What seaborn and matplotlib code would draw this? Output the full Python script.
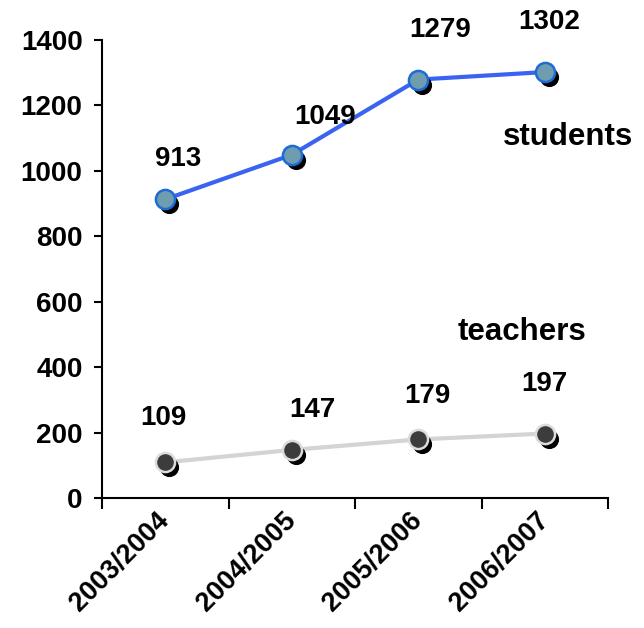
import matplotlib
matplotlib.use("Agg")
import matplotlib.pyplot as plt
import matplotlib.transforms as mtransforms
import seaborn as sns
import pandas as pd

years = ["2003/2004", "2004/2005", "2005/2006", "2006/2007"]
students = [913, 1049, 1279, 1302]
teachers = [109, 147, 179, 197]
yticks = [0, 200, 400, 600, 800, 1000, 1200, 1400]

sns.set_style("white")
plt.rcParams['font.family'] = ['Liberation Sans', 'DejaVu Sans']
plt.rcParams['font.weight'] = 'bold'
plt.rcParams['text.color'] = 'black'
plt.rcParams['xtick.color'] = 'black'
plt.rcParams['ytick.color'] = 'black'

fig = plt.figure(figsize=(6.44, 6.28), dpi=100)
ax = fig.add_axes([102/644, 1 - 498/628, (608-102)/644, (498-40)/628])

df_s = pd.DataFrame({"year": years, "value": students})
df_t = pd.DataFrame({"year": years, "value": teachers})

shadow = mtransforms.offset_copy(ax.transData, fig=fig, x=4, y=-5, units='dots')

for df, lc, fc, ec in [(df_s, "#3B63F2", "#6E9DB0", "#1E6BD6"),
                       (df_t, "#D4D4D4", "#3C3C3C", "#DCDCDC")]:
    sns.lineplot(data=df, x="year", y="value", ax=ax, color=lc, linewidth=3, sort=False, zorder=2)
    sns.scatterplot(data=df, x="year", y="value", ax=ax, color="black", s=190,
                    edgecolor="black", linewidth=0, zorder=3, transform=shadow)
    sns.scatterplot(data=df, x="year", y="value", ax=ax, color=fc, s=190,
                    edgecolor=ec, linewidth=1.8, zorder=4)

FS = 20
s_off = [(13, 40), (33, 38), (22, 50), (4, 50)]
t_off = [(-2, 44), (21, 40), (9, 43), (0, 50)]
for i, v in enumerate(students):
    ax.annotate(str(v), (i, v), xytext=(s_off[i][0], s_off[i][1]), textcoords='offset pixels',
                ha='center', va='center', fontsize=FS, fontweight='bold', color='black', zorder=5)
for i, v in enumerate(teachers):
    ax.annotate(str(v), (i, v), xytext=(t_off[i][0], t_off[i][1]), textcoords='offset pixels',
                ha='center', va='center', fontsize=FS, fontweight='bold', color='black', zorder=5)

ax.text(2.67, 1105, "students", fontsize=22.5, fontweight='bold', ha='left', va='center', color='black')
ax.text(2.31, 507, "teachers", fontsize=22.5, fontweight='bold', ha='left', va='center', color='black')

ax.set_xlim(-0.5, 3.5)
ax.set_ylim(0, 1400)
ax.set_yticks(yticks)
ax.set_yticklabels([str(t) for t in yticks], fontsize=FS, fontweight='bold', color='black')
ax.set_xticks(range(len(years)))
ax.set_xticks([-0.5, 0.5, 1.5, 2.5, 3.5], minor=True)
ax.tick_params(axis='x', which='major', length=0, pad=12, bottom=True)
ax.tick_params(axis='x', which='minor', length=8, width=1.5, direction='out', color='black', bottom=True)
ax.tick_params(axis='y', which='major', length=6, width=1.5, direction='out', color='black', pad=8, left=True)
ax.set_xticklabels(years, rotation=45, ha='right', va='top', rotation_mode='anchor',
                   fontsize=19.5, fontweight='bold', color='black')
shift = mtransforms.ScaledTranslation(-9/100, 7/100, fig.dpi_scale_trans)
for lab in ax.get_xticklabels():
    lab.set_transform(lab.get_transform() + shift)
ax.set_xlabel("")
ax.set_ylabel("")
for sp in ["top", "right"]:
    ax.spines[sp].set_visible(False)
for sp in ["left", "bottom"]:
    ax.spines[sp].set_color("black")
    ax.spines[sp].set_linewidth(1.5)
for c in ax.get_children():
    try:
        c.set_clip_on(False)
    except Exception:
        pass

fig.savefig("out.png", dpi=100)
